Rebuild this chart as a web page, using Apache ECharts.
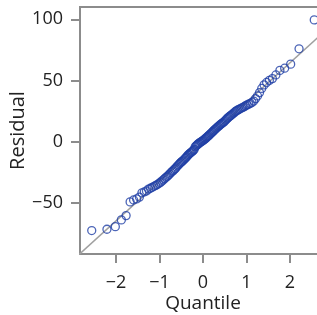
<!DOCTYPE html>
<html>
<head>
<meta charset="utf-8">
<script src="https://cdn.jsdelivr.net/npm/echarts@6/dist/echarts.min.js"></script>
<style>html,body{margin:0;padding:0;background:#fff;}#c{width:317px;height:315px;}</style>
</head>
<body>
<div id="c"></div>
<script>
const quantiles = [-2.56,-2.21,-2.017,-1.879,-1.769,-1.677,-1.597,-1.527,-1.463,-1.405,-1.351,-1.301,-1.254,-1.209,-1.167,-1.127,-1.088,-1.051,-1.015,-0.981,-0.948,-0.916,-0.885,-0.854,-0.825,-0.796,-0.767,-0.740,-0.712,-0.686,-0.660,-0.634,-0.609,-0.584,-0.559,-0.535,-0.511,-0.488,-0.464,-0.441,-0.418,-0.396,-0.374,-0.351,-0.329,-0.307,-0.286,-0.264,-0.243,-0.221,-0.200,-0.179,-0.157,-0.136,-0.115,-0.094,-0.073,-0.052,-0.031,-0.010,
0.010,0.031,0.052,0.073,0.094,0.115,0.136,0.157,0.179,0.200,0.221,0.243,0.264,0.286,0.307,0.329,0.351,0.374,0.396,0.418,0.441,0.464,0.488,0.511,0.535,0.559,0.584,0.609,0.634,0.660,0.686,0.712,0.740,0.767,0.796,0.825,0.854,0.885,0.916,0.948,0.981,1.015,1.051,1.088,1.127,1.167,1.209,1.254,1.301,1.351,1.405,1.463,1.527,1.597,1.677,1.769,1.879,2.017,2.21,2.56];
const residuals = [-72.3,-71.2,-69.1,-63.6,-60.1,-48.9,-47.3,-46.5,-45.0,-41.5,-40.8,-40.0,-38.5,-37.8,-37.0,-36.2,-35.5,-34.8,-33.9,-33.0,-32.0,-31.0,-30.0,-29.0,-28.2,-27.2,-26.2,-25.1,-24.2,-23.4,-22.4,-21.6,-20.5,-19.5,-18.6,-17.6,-16.8,-16.1,-15.4,-14.6,-13.7,-12.9,-12.1,-11.0,-10.2,-9.5,-8.9,-8.3,-7.6,-6.9,-6.0,-4.0,-3.2,-2.5,-1.8,-1.2,-0.6,-0.1,0.4,0.9,
1.4,2.0,2.6,3.3,4.0,4.6,5.3,6.1,6.8,7.5,8.3,9.0,9.8,10.5,11.2,11.9,12.6,13.3,14.0,14.6,15.2,15.8,16.5,17.4,18.3,19.2,20.0,20.7,21.4,22.1,22.9,23.7,24.6,25.3,25.9,26.5,27.0,27.6,28.1,28.7,29.5,30.2,30.8,31.4,32.2,33.3,35.3,37.5,40.2,43.6,46.5,48.5,50.2,51.6,54.6,58.3,60.1,63.4,75.9,99.5];
const refLineX = [-3, 3];
const refLineY = [-96.6, 96.6];
const xTicks = [-2, -1, 0, 1, 2];
const yTicks = [-50, 0, 50, 100];

const FONT = 'Open Sans';
const AXIS = '#8c8c8c';
const fmt = v => (v < 0 ? '\u2212' + Math.abs(v) : String(v));

const chart = echarts.init(document.getElementById('c'));
chart.setOption({
  animation: false,
  grid: { left: 80, top: 7, width: 246, height: 247, outerBoundsMode: 'none', containLabel: false, show: true, borderColor: AXIS, borderWidth: 2, backgroundColor: '#fff' },
  xAxis: {
    type: 'value', min: -2.83, max: 2.83,
    name: 'Quantile', nameLocation: 'middle', nameGap: 40, nameMoveOverlap: false,
    nameTextStyle: { fontFamily: FONT, fontSize: 19, color: '#222' },
    axisLine: { show: true, onZero: false, lineStyle: { color: AXIS, width: 2 } },
    axisTick: { show: true, length: 9, lineStyle: { color: AXIS, width: 2 }, customValues: xTicks },
    axisLabel: { fontFamily: FONT, fontSize: 18, color: '#222', margin: 20, customValues: xTicks, formatter: fmt },
    splitLine: { show: false }
  },
  yAxis: {
    type: 'value', min: -91.4, max: 110,
    name: 'Residual', nameLocation: 'middle', nameGap: 52, nameMoveOverlap: false,
    nameTextStyle: { fontFamily: FONT, fontSize: 20, color: '#222' },
    axisLine: { show: true, onZero: false, lineStyle: { color: AXIS, width: 2 } },
    axisTick: { show: true, length: 9, lineStyle: { color: AXIS, width: 2 }, customValues: yTicks },
    axisLabel: { fontFamily: FONT, fontSize: 18, color: '#222', margin: 17, customValues: yTicks, formatter: fmt },
    splitLine: { show: false }
  },
  series: [
    {
      type: 'line', data: refLineX.map((x, i) => [x, refLineY[i]]),
      symbol: 'none', lineStyle: { color: '#a0a0a0', width: 1.5 }, silent: true, z: 1
    },
    {
      type: 'scatter', data: quantiles.map((q, i) => [q, residuals[i]]),
      symbol: 'circle', symbolSize: 8,
      itemStyle: { color: 'rgba(0,0,0,0)', borderColor: '#1f3fa5', borderWidth: 1.3 },
      z: 2
    }
  ]
});
</script>
</body>
</html>
